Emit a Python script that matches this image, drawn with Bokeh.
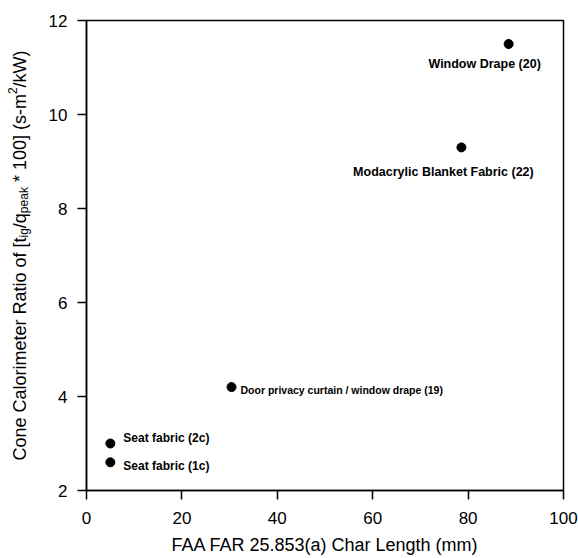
import math
from bokeh.plotting import figure
from bokeh.layouts import row
from bokeh.models import ColumnDataSource, LabelSet, Range1d, FixedTicker
from bokeh.core.properties import value
from bokeh.embed import file_html
from bokeh.resources import INLINE

# ---- data ----
materials = [
    "Window Drape (20)",
    "Modacrylic Blanket Fabric (22)",
    "Door privacy curtain / window drape (19)",
    "Seat fabric (2c)",
    "Seat fabric (1c)",
]
char_length = [88.5, 78.6, 30.4, 5.0, 5.0]
cone_ratio = [11.5, 9.3, 4.2, 3.0, 2.6]

x_ticks = [0, 20, 40, 60, 80, 100]
y_ticks = [2, 4, 6, 8, 10, 12]

# ---- label layout (pixels) ----
label_align = ["center", "center", "left", "left", "left"]
label_dx = [-24, -18, 9, 13, 13]
label_dy = [-20, -25, -3, 6, -4]
label_size = ["12.5px", "12.5px", "10.5px", "12px", "12px"]

W, H = 578, 558
TW = 40                      # width of the strip holding the y title
BL, BR, BT, BB = 86 - TW, 15, 20, 68
FW, FH = W - TW - BL - BR, H - BT - BB
X0, X1, Y0, Y1 = 0, 100, 2, 12
FONT = "Liberation Sans"

p = figure(width=W - TW, height=H, output_backend="svg", toolbar_location=None,
           x_range=Range1d(X0, X1), y_range=Range1d(Y0, Y1),
           min_border_left=BL, min_border_right=BR,
           min_border_top=BT, min_border_bottom=BB,
           background_fill_color="white", border_fill_color="white")
p.grid.visible = False
p.outline_line_color = "black"
p.outline_line_width = 1.5

for ax in (p.xaxis[0], p.yaxis[0]):
    ax.axis_line_color = "black"
    ax.axis_line_width = 1.5
    ax.major_tick_line_color = "black"
    ax.major_tick_line_width = 1.5
    ax.major_tick_out = 9
    ax.major_tick_in = 0
    ax.minor_tick_line_color = None
    ax.major_label_text_font = FONT
    ax.major_label_text_font_size = "17px"
    ax.major_label_text_color = "black"

p.xaxis.ticker = FixedTicker(ticks=x_ticks)
p.yaxis.ticker = FixedTicker(ticks=y_ticks)
p.xaxis.major_label_standoff = 12
p.yaxis.major_label_standoff = 10

p.xaxis.axis_label = "FAA FAR 25.853(a) Char Length (mm)"
p.xaxis.axis_label_text_font = FONT
p.xaxis.axis_label_text_font_size = "18px"
p.xaxis.axis_label_text_font_style = "normal"
p.xaxis.axis_label_standoff = 8
p.xaxis.axis_label_text_color = "black"

src = ColumnDataSource(dict(x=char_length, y=cone_ratio, name=materials,
                            align=label_align, dx=label_dx, dy=label_dy,
                            fs=label_size))
p.scatter(x="x", y="y", source=src, size=9, color="black")

labels = LabelSet(x="x", y="y", text="name", source=src,
                  x_offset="dx", y_offset="dy", text_align="align",
                  text_baseline="middle", text_font=value(FONT),
                  text_font_size="fs", text_font_style="bold",
                  text_color="black")
p.add_layout(labels)

# ---- y-axis title strip, built from pieces (with sub/superscripts) ----
AW = {' ': .278, 'C': .722, 'o': .556, 'n': .556, 'e': .556, 'a': .556, 'l': .222,
      'r': .333, 'i': .222, 'm': .833, 't': .278, 'R': .722, 'f': .278, '[': .278,
      '/': .278, 'q': .556, '*': .389, '1': .556, '0': .556, ']': .278, '(': .333,
      's': .5, '-': .333, 'k': .5, 'W': .944, ')': .333, 'g': .556, 'p': .556, '2': .556}

def text_width(s, size):
    return sum(AW.get(c, .556) for c in s) * size

# (text, font size, baseline shift px, leading gap in spaces)
pieces = [
    ("Cone Calorimeter Ratio of [t", 18, 0, 0),
    ("ig", 12, 4, 0),
    ("/q", 18, 0, 0),
    ("peak", 12, 4, 0),
    ("* 100] (s-m", 18, 0, 1),
    ("2", 12, -7, 0),
    ("/kW)", 18, 0, 0),
]

# the strip's frame is aligned with the main plot's frame (BT .. BT+FH)
t = figure(width=TW, height=H, output_backend="svg", toolbar_location=None,
           x_range=Range1d(0, TW), y_range=Range1d(0, FH),
           x_axis_location=None, y_axis_location=None,
           min_border_left=0, min_border_right=0,
           min_border_top=BT, min_border_bottom=BB,
           background_fill_color="white", border_fill_color="white")
t.grid.visible = False
t.outline_line_color = None

total = sum(text_width(s, fs) + gap * AW[' '] * fs for s, fs, _, gap in pieces)
base_sx = 19
center_sy = BT + FH / 2
start_sy = center_sy + total / 2
tx, ty, tt, tf = [], [], [], []
cum = 0.0
for s, fs, shift, gap in pieces:
    cum += gap * AW[' '] * fs
    tx.append(base_sx + shift)
    ty.append((BT + FH) - (start_sy - cum))
    tt.append(s)
    tf.append(f"{fs}px")
    cum += text_width(s, fs)
t.text(x=tx, y=ty, text=tt, text_font_size=tf, angle=math.pi / 2,
       text_font=value(FONT), text_baseline="alphabetic", text_align="left",
       text_color="black")

layout = row(t, p, spacing=0)
open("out.html", "w").write(file_html(layout, INLINE))
